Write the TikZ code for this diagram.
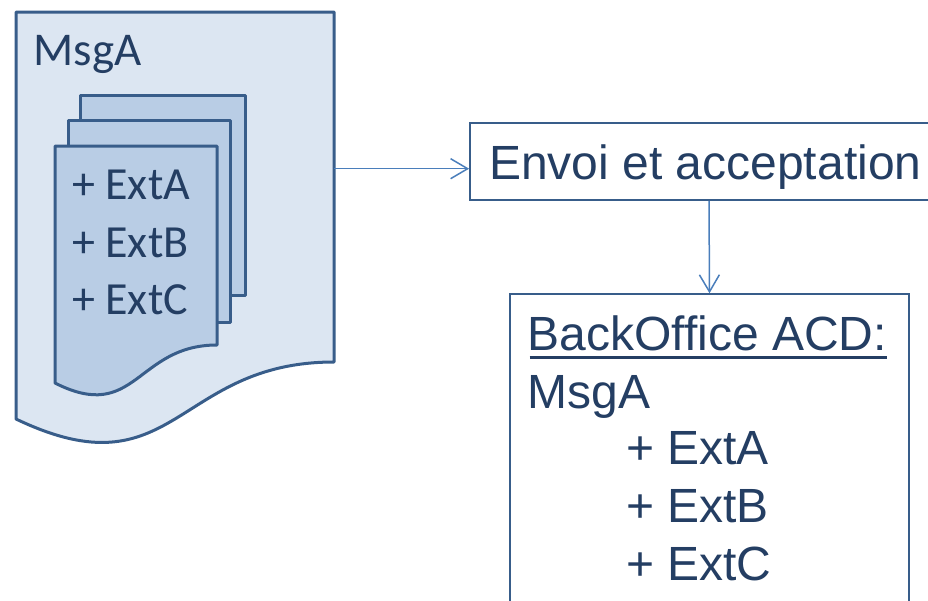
\documentclass[tikz,border=0pt]{standalone}
\usepackage{fontspec}
\setmainfont{Liberation Sans}
\newfontfamily\calibrifont{Carlito}
\usepackage{xcolor}
\usepackage{tikz}
\usetikzlibrary{arrows.meta, positioning, calc}
\definecolor{docfill}{RGB}{220,230,242}
\definecolor{pagefill}{RGB}{185,205,229}
\definecolor{linecolor}{RGB}{56,93,138}
\definecolor{arrowcolor}{RGB}{74,126,187}
\definecolor{textcolor}{RGB}{36,62,99}

\begin{document}
\begin{tikzpicture}[
    x=1pt, y=-1pt,
    outerdoc/.style={draw=linecolor, line width=3pt, fill=docfill, line join=round},
    innerpage/.style={draw=linecolor, line width=3pt, fill=pagefill, line join=round},
    box/.style={draw=linecolor, line width=1.8pt, fill=white, inner sep=0pt},
    doclabel/.style={inner sep=0pt, anchor=base west, text=textcolor, font=\calibrifont\fontsize{46}{57.5}\selectfont},
    boxlabel/.style={inner sep=0pt, anchor=base west, text=textcolor, font=\fontsize{48}{57.5}\selectfont},
    relation/.style={-{Straight Barb[length=17pt, width=20pt]}, draw=arrowcolor, line width=1.5pt}
]
    \useasboundingbox (0,0) rectangle (928,600);

    % Message document with its extensions
    \draw[outerdoc] (16,12) -- (334,12) -- (334,362) .. controls (175,362) and (175,495) .. (16,419) -- cycle;
    \draw[innerpage] (80,95) rectangle (245,295);
    \draw[innerpage] (68,120) rectangle (230,322);
    \draw[innerpage] (55,146) -- (217,146) -- (217,345) .. controls (136,345) and (136,424) .. (55,383) -- cycle;
    \coordinate (msgEdge) at (334,168.7);

    \node[doclabel, font=\calibrifont\fontsize{47}{57.5}\selectfont] (msgA) at (33.5,65.5) {MsgA};
    \node[doclabel] (extA) at (72,199.5) {+ ExtA};
    \node[doclabel] (extB) at (72,257) {+ ExtB};
    \node[doclabel] (extC) at (72,314.5) {+ ExtC};

    % Sending step
    \node[box, minimum width=478pt, minimum height=77.3pt] (envoi) at (709,161.35) {};
    \node[boxlabel] at (489,179) {Envoi et acceptation};

    % Back office
    \node[box, line width=1.5pt, minimum width=399pt, minimum height=326pt] (backoffice) at (709.5,457) {};
    \node[boxlabel] (boTitle) at (527.5,350) {BackOffice ACD:};
    \draw[textcolor, line width=3pt] ($(boTitle.base west)+(2,7)$) -- ($(boTitle.base east)+(0,7)$);
    \node[boxlabel] (boMsg) at (527.5,408) {MsgA};
    \node[boxlabel] (boExtA) at (626,464) {+ ExtA};
    \node[boxlabel] (boExtB) at (626,522) {+ ExtB};
    \node[boxlabel] (boExtC) at (626,580) {+ ExtC};

    % Relations
    \draw[relation] (msgEdge) -- (msgEdge -| envoi.west);
    \draw[relation] (envoi.south) -- (backoffice.north);
\end{tikzpicture}
\end{document}
